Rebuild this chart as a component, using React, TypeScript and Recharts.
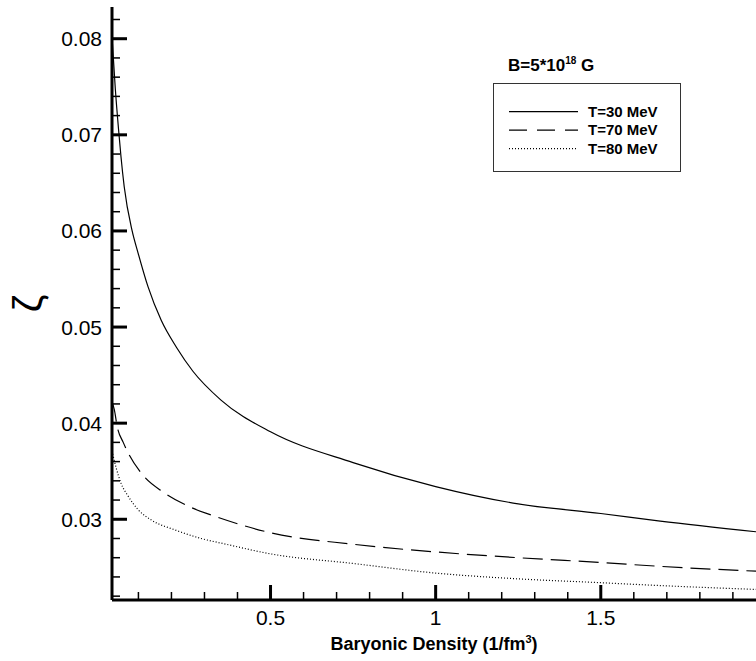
import { LineChart, Line, XAxis, YAxis, Legend, ReferenceLine } from "recharts";

const FONT = '"Liberation Sans", Arial, Helvetica, sans-serif';

// baryonic density (1/fm^3) and zeta
const densityT30 = [0.02, 0.03, 0.04, 0.047, 0.057, 0.081, 0.099, 0.129, 0.169, 0.215, 0.265, 0.35, 0.5, 0.75, 1.0, 1.25, 1.5, 1.68, 1.97];
const zetaT30 = [0.0802, 0.0748, 0.0705, 0.0678, 0.0646, 0.06, 0.0577, 0.0542, 0.0507, 0.0479, 0.0454, 0.0424, 0.0391, 0.0359, 0.0334, 0.0316, 0.0306, 0.0298, 0.0287];

const densityT70 = [0.02, 0.027, 0.036, 0.054, 0.069, 0.104, 0.121, 0.172, 0.255, 0.341, 0.5, 0.75, 1.0, 1.25, 1.5, 1.68, 1.97];
const zetaT70 = [0.0422, 0.0414, 0.0396, 0.038, 0.0369, 0.035, 0.0343, 0.0329, 0.0313, 0.0302, 0.0286, 0.0274, 0.0266, 0.026, 0.0255, 0.0251, 0.0246];

const densityT80 = [0.02, 0.033, 0.048, 0.069, 0.099, 0.14, 0.21, 0.29, 0.366, 0.5, 0.75, 1.0, 1.25, 1.5, 1.68, 1.97];
const zetaT80 = [0.0371, 0.0353, 0.0337, 0.0324, 0.031, 0.0299, 0.0289, 0.028, 0.0274, 0.0264, 0.0254, 0.0244, 0.0238, 0.0234, 0.0231, 0.0227];

const xMajorTicks = [0.5, 1, 1.5];
const xAllTicks = [0.1, 0.2, 0.3, 0.4, 0.5, 0.6, 0.7, 0.8, 0.9, 1, 1.1, 1.2, 1.3, 1.4, 1.5, 1.6, 1.7, 1.8, 1.9];
const yMajorTicks = [0.03, 0.04, 0.05, 0.06, 0.07, 0.08];
const yAllTicks = [
  0.022, 0.024, 0.026, 0.028, 0.03, 0.032, 0.034, 0.036, 0.038, 0.04, 0.042, 0.044, 0.046, 0.048, 0.05,
  0.052, 0.054, 0.056, 0.058, 0.06, 0.062, 0.064, 0.066, 0.068, 0.07, 0.072, 0.074, 0.076, 0.078, 0.08, 0.082,
];

const X_DOMAIN = [0.02, 1.97];
const Y_DOMAIN = [0.0216, 0.0833];
const TICK_MARGIN = 10;

const zip = (xs: number[], ys: number[]) => xs.map((x, i) => ({ x, y: ys[i] }));

const series = [
  { name: "T=30 MeV", data: zip(densityT30, zetaT30), dash: undefined, legendDash: undefined },
  { name: "T=70 MeV", data: zip(densityT70, zetaT70), dash: "20 8", legendDash: "18 10" },
  { name: "T=80 MeV", data: zip(densityT80, zetaT80), dash: "1 2", legendDash: "1 2" },
];

const XTick = ({ x, y, payload }: any) =>
  xMajorTicks.includes(payload.value) ? (
    <text x={x} y={y} dy="0.71em" textAnchor="middle" fontSize={21} fontFamily={FONT} fill="#000">
      {payload.value}
    </text>
  ) : (
    <g />
  );

// inward x tick mark drawn at the bottom end of a reference line
const xTickMark = (major: boolean) => (props: any) => {
  const x = props.x1 ?? props.x;
  const bottom = Math.max(props.y1 ?? 0, props.y2 ?? 0);
  const len = major ? 15 : 8;
  const w = major ? 3 : 1.5;
  return <rect x={x - w / 2} y={bottom - len} width={w} height={len} fill="#000" />;
};

const YTick = ({ x, y, payload }: any) => {
  const major = yMajorTicks.includes(payload.value);
  const len = major ? 15 : 8;
  const w = major ? 3 : 1.5;
  const base = x + TICK_MARGIN;
  return (
    <g>
      <rect x={base} y={y - w / 2} width={len} height={w} fill="#000" />
      {major && (
        <text x={x} y={y} dy="0.355em" textAnchor="end" fontSize={21} fontFamily={FONT} fill="#000">
          {payload.value}
        </text>
      )}
    </g>
  );
};

const LegendBox = ({ payload }: any) => (
  <svg width={250} height={150} style={{ display: "block" }}>
    <text x={58} y={31} fontSize={17} fontWeight="bold" fontFamily={FONT} fill="#000">
      B=5*10
      <tspan dy={-7} fontSize={10}>18</tspan>
      <tspan dy={7}> G</tspan>
    </text>
    <rect x={43.5} y={43.5} width={187} height={88} fill="#fff" stroke="#333" strokeWidth={1} />
    {(payload || []).map((entry: any, i: number) => {
      const y = 71.7 + i * 18.5;
      const s = series.find((d) => d.name === entry.value);
      return (
        <g key={entry.value}>
          <line x1={59} x2={128} y1={y} y2={y} stroke="#000" strokeWidth={1.2} strokeDasharray={s?.legendDash} />
          <text x={138} y={y + 5} fontSize={15} fontWeight="bold" fontFamily={FONT} fill="#000">
            {entry.value}
          </text>
        </g>
      );
    })}
  </svg>
);

const XLabel = ({ viewBox }: any) => {
  const cx = viewBox.x + viewBox.width / 2;
  return (
    <text x={cx} y={viewBox.y + 50} textAnchor="middle" fontSize={18} fontWeight="bold" fontFamily={FONT} fill="#000">
      Baryonic Density (1/fm
      <tspan dy={-7} fontSize={11}>3</tspan>
      <tspan dy={7}>)</tspan>
    </text>
  );
};

const YLabel = ({ viewBox }: any) => {
  const cy = viewBox.y + viewBox.height / 2;
  return (
    <text
      transform={`translate(${viewBox.x + 28},${cy}) rotate(-90)`}
      textAnchor="middle"
      dominantBaseline="central"
      fontSize={40}
      fontFamily={FONT}
      fill="#000"
    >
      ζ
    </text>
  );
};

export default function App() {
  return (
    <div style={{ position: "absolute", left: 0, top: 0, background: "#fff" }}>
      <LineChart width={756} height={661} margin={{ top: 7, right: 0, bottom: 0, left: 0 }}>
        <XAxis
          xAxisId="x"
          type="number"
          dataKey="x"
          domain={X_DOMAIN}
          allowDataOverflow
          ticks={xMajorTicks}
          interval={0}
          tickLine={false}
          tickSize={0}
          tickMargin={TICK_MARGIN}
          height={61}
          axisLine={{ stroke: "#000", strokeWidth: 3 }}
          tick={<XTick />}
          label={<XLabel />}
        />
        <YAxis
          yAxisId="y"
          type="number"
          domain={Y_DOMAIN}
          allowDataOverflow
          ticks={yAllTicks}
          interval={0}
          tickLine={false}
          tickSize={0}
          tickMargin={TICK_MARGIN}
          width={112}
          axisLine={{ stroke: "#000", strokeWidth: 3 }}
          tick={<YTick />}
          label={<YLabel />}
        />
        {xAllTicks.map((v) => (
          <ReferenceLine
            key={"xt" + v}
            xAxisId="x"
            yAxisId="y"
            x={v}
            stroke="none"
            shape={xTickMark(xMajorTicks.includes(v))}
          />
        ))}
        <Legend
          layout="horizontal"
          verticalAlign="middle"
          align="center"
          content={<LegendBox />}
          wrapperStyle={{ left: 450, top: 40, width: 250, height: 150 }}
        />
        {series.map((s) => (
          <Line
            key={s.name}
            xAxisId="x"
            yAxisId="y"
            name={s.name}
            data={s.data}
            dataKey="y"
            type="monotone"
            stroke="#000"
            strokeWidth={1.2}
            strokeDasharray={s.dash}
            dot={false}
            activeDot={false}
            isAnimationActive={false}
          />
        ))}
      </LineChart>
    </div>
  );
}
